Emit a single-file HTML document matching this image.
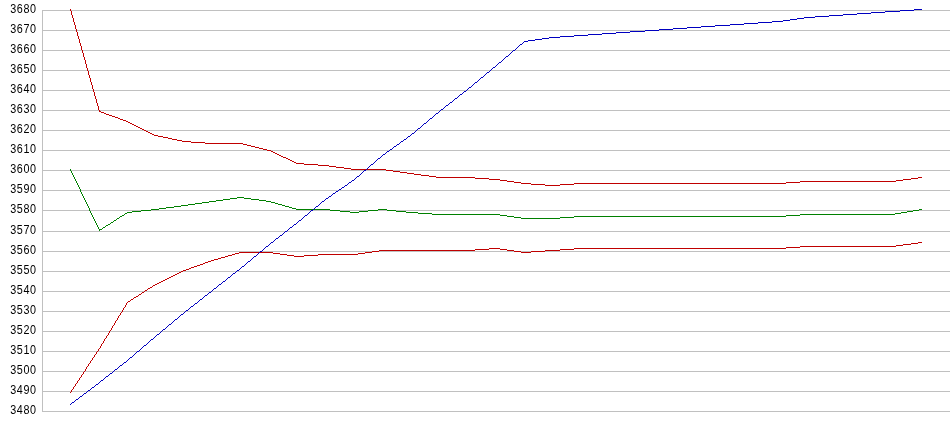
<!DOCTYPE html>
<html><head><meta charset="utf-8"><title>Chart</title>
<style>
html,body{margin:0;padding:0;background:#fff;}
body{position:relative;width:950px;height:435px;overflow:hidden;font-family:"Liberation Sans",sans-serif;}
svg{display:block;}
text{font-family:"Liberation Sans",sans-serif;font-size:10.8px;fill:#000;}
</style></head><body>
<svg width="950" height="435" viewBox="0 0 950 435">
<rect x="0" y="0" width="950" height="435" fill="#ffffff"/>
<g shape-rendering="crispEdges" fill="#c0c0c0" stroke="none">
<rect x="42" y="10" width="908" height="1"/>
<rect x="42" y="30" width="908" height="1"/>
<rect x="42" y="50" width="908" height="1"/>
<rect x="42" y="70" width="908" height="1"/>
<rect x="42" y="90" width="908" height="1"/>
<rect x="42" y="110" width="908" height="1"/>
<rect x="42" y="130" width="908" height="1"/>
<rect x="42" y="150" width="908" height="1"/>
<rect x="42" y="170" width="908" height="1"/>
<rect x="42" y="190" width="908" height="1"/>
<rect x="42" y="210" width="908" height="1"/>
<rect x="42" y="231" width="908" height="1"/>
<rect x="42" y="251" width="908" height="1"/>
<rect x="42" y="271" width="908" height="1"/>
<rect x="42" y="291" width="908" height="1"/>
<rect x="42" y="311" width="908" height="1"/>
<rect x="42" y="331" width="908" height="1"/>
<rect x="42" y="351" width="908" height="1"/>
<rect x="42" y="371" width="908" height="1"/>
<rect x="42" y="391" width="908" height="1"/>
<rect x="42" y="411" width="908" height="1"/>
<rect x="42" y="10" width="1" height="402"/>
</g>
<g shape-rendering="crispEdges" stroke="none">
<path fill="#008000" d="M70 169h1v2h-1zM71 171h1v2h-1zM72 173h1v2h-1zM73 175h1v2h-1zM74 177h1v2h-1zM75 179h1v2h-1zM76 181h1v2h-1zM77 183h1v2h-1zM78 185h1v2h-1zM79 187h1v2h-1zM80 189h1v3h-1zM81 192h1v2h-1zM82 194h1v2h-1zM83 196h1v2h-1zM84 198h1v2h-1zM85 200h1v2h-1zM86 202h1v2h-1zM87 204h1v2h-1zM88 206h1v2h-1zM89 208h1v3h-1zM90 211h1v2h-1zM91 213h1v2h-1zM92 215h1v2h-1zM93 217h1v2h-1zM94 219h1v2h-1zM95 221h1v2h-1zM96 223h1v2h-1zM97 225h1v2h-1zM98 227h1v2h-1zM99 230h1v1h-1zM99 229h3v1h-3zM102 228h1v1h-1zM103 227h2v1h-2zM105 226h1v1h-1zM106 225h2v1h-2zM108 224h2v1h-2zM110 223h1v1h-1zM111 222h2v1h-2zM113 221h1v1h-1zM114 220h2v1h-2zM116 219h1v1h-1zM117 218h2v1h-2zM119 217h1v1h-1zM120 216h2v1h-2zM122 215h2v1h-2zM124 214h1v1h-1zM125 213h2v1h-2zM127 212h5v1h-5zM132 211h9v1h-9zM141 210h10v1h-10zM151 209h8v1h-8zM159 208h7v1h-7zM166 207h8v1h-8zM174 206h7v1h-7zM181 205h7v1h-7zM188 204h7v1h-7zM195 203h7v1h-7zM202 202h7v1h-7zM209 201h7v1h-7zM216 200h7v1h-7zM223 199h7v1h-7zM230 198h7v1h-7zM237 197h7v1h-7zM244 198h7v1h-7zM251 199h8v1h-8zM259 200h7v1h-7zM266 201h5v1h-5zM271 202h4v1h-4zM275 203h3v1h-3zM278 204h4v1h-4zM282 205h3v1h-3zM285 206h4v1h-4zM289 207h3v1h-3zM292 208h4v1h-4zM296 209h34v1h-34zM330 210h10v1h-10zM340 211h10v1h-10zM350 212h9v1h-9zM359 211h9v1h-9zM368 210h10v1h-10zM378 209h9v1h-9zM387 210h9v1h-9zM396 211h10v1h-10zM406 212h12v1h-12zM418 213h14v1h-14zM432 214h68v1h-68zM500 215h7v1h-7zM507 216h7v1h-7zM514 217h7v1h-7zM521 218h39v1h-39zM560 217h14v1h-14zM574 216h212v1h-212zM786 215h14v1h-14zM800 214h95v1h-95zM895 213h6v1h-6zM901 212h6v1h-6zM907 211h6v1h-6zM913 210h6v1h-6zM919 209h3v1h-3z"/>
<path fill="#c00000" d="M70 9h1v2h-1zM71 11h1v4h-1zM72 15h1v3h-1zM73 18h1v4h-1zM74 22h1v3h-1zM75 25h1v4h-1zM76 29h1v3h-1zM77 32h1v4h-1zM78 36h1v3h-1zM79 39h1v4h-1zM80 43h1v3h-1zM81 46h1v4h-1zM82 50h1v3h-1zM83 53h1v4h-1zM84 57h1v3h-1zM85 60h1v4h-1zM86 64h1v4h-1zM87 68h1v3h-1zM88 71h1v4h-1zM89 75h1v3h-1zM90 78h1v4h-1zM91 82h1v3h-1zM92 85h1v4h-1zM93 89h1v3h-1zM94 92h1v4h-1zM95 96h1v3h-1zM96 99h1v4h-1zM97 103h1v3h-1zM98 106h1v4h-1zM99 110h1v1h-1zM99 111h2v1h-2zM101 112h3v1h-3zM104 113h2v1h-2zM106 114h3v1h-3zM109 115h3v1h-3zM112 116h3v1h-3zM115 117h3v1h-3zM118 118h2v1h-2zM120 119h3v1h-3zM123 120h3v1h-3zM126 121h2v1h-2zM128 122h2v1h-2zM130 123h2v1h-2zM132 124h2v1h-2zM134 125h2v1h-2zM136 126h2v1h-2zM138 127h2v1h-2zM140 128h2v1h-2zM142 129h2v1h-2zM144 130h2v1h-2zM146 131h2v1h-2zM148 132h2v1h-2zM150 133h2v1h-2zM152 134h2v1h-2zM154 135h4v1h-4zM158 136h5v1h-5zM163 137h5v1h-5zM168 138h4v1h-4zM172 139h5v1h-5zM177 140h5v1h-5zM182 141h9v1h-9zM191 142h14v1h-14zM205 143h38v1h-38zM243 144h4v1h-4zM247 145h4v1h-4zM251 146h4v1h-4zM255 147h4v1h-4zM259 148h4v1h-4zM263 149h4v1h-4zM267 150h4v1h-4zM271 151h2v1h-2zM273 152h2v1h-2zM275 153h2v1h-2zM277 154h2v1h-2zM279 155h2v1h-2zM281 156h2v1h-2zM283 157h3v1h-3zM286 158h2v1h-2zM288 159h2v1h-2zM290 160h2v1h-2zM292 161h2v1h-2zM294 162h2v1h-2zM296 163h8v1h-8zM304 164h14v1h-14zM318 165h11v1h-11zM329 166h7v1h-7zM336 167h8v1h-8zM344 168h7v1h-7zM351 169h35v1h-35zM386 170h7v1h-7zM393 171h7v1h-7zM400 172h7v1h-7zM407 173h7v1h-7zM414 174h7v1h-7zM421 175h8v1h-8zM429 176h7v1h-7zM436 177h39v1h-39zM475 178h14v1h-14zM489 179h11v1h-11zM500 180h7v1h-7zM507 181h7v1h-7zM514 182h7v1h-7zM521 183h10v1h-10zM531 184h14v1h-14zM545 185h15v1h-15zM560 184h14v1h-14zM574 183h212v1h-212zM786 182h14v1h-14zM800 181h96v1h-96zM896 180h7v1h-7zM903 179h8v1h-8zM911 178h7v1h-7zM918 177h4v1h-4z"/>
<path fill="#c00000" d="M70 392h1v1h-1zM71 390h1v2h-1zM72 389h1v1h-1zM73 387h1v2h-1zM74 386h1v1h-1zM75 384h1v2h-1zM76 383h1v1h-1zM77 381h1v2h-1zM78 380h1v1h-1zM79 378h1v2h-1zM80 377h1v1h-1zM81 375h1v2h-1zM82 374h1v1h-1zM83 372h1v2h-1zM84 371h1v1h-1zM85 369h1v2h-1zM86 367h1v2h-1zM87 366h1v1h-1zM88 364h1v2h-1zM89 363h1v1h-1zM90 361h1v2h-1zM91 360h1v1h-1zM92 358h1v2h-1zM93 357h1v1h-1zM94 355h1v2h-1zM95 354h1v1h-1zM96 352h1v2h-1zM97 351h1v1h-1zM98 349h1v2h-1zM99 348h1v1h-1zM100 346h1v2h-1zM101 344h1v2h-1zM102 343h1v1h-1zM103 341h1v2h-1zM104 339h1v2h-1zM105 338h1v1h-1zM106 336h1v2h-1zM107 335h1v1h-1zM108 333h1v2h-1zM109 331h1v2h-1zM110 330h1v1h-1zM111 328h1v2h-1zM112 326h1v2h-1zM113 325h1v1h-1zM114 323h1v2h-1zM115 321h1v2h-1zM116 320h1v1h-1zM117 318h1v2h-1zM118 316h1v2h-1zM119 315h1v1h-1zM120 313h1v2h-1zM121 312h1v1h-1zM122 310h1v2h-1zM123 308h1v2h-1zM124 307h1v1h-1zM125 305h1v2h-1zM126 303h1v2h-1zM127 302h1v1h-1zM128 301h2v1h-2zM130 300h1v1h-1zM131 299h2v1h-2zM133 298h1v1h-1zM134 297h2v1h-2zM136 296h2v1h-2zM138 295h1v1h-1zM139 294h2v1h-2zM141 293h1v1h-1zM142 292h2v1h-2zM144 291h1v1h-1zM145 290h2v1h-2zM147 289h1v1h-1zM148 288h2v1h-2zM150 287h2v1h-2zM152 286h1v1h-1zM153 285h2v1h-2zM155 284h2v1h-2zM157 283h2v1h-2zM159 282h2v1h-2zM161 281h2v1h-2zM163 280h2v1h-2zM165 279h2v1h-2zM167 278h2v1h-2zM169 277h2v1h-2zM171 276h2v1h-2zM173 275h2v1h-2zM175 274h2v1h-2zM177 273h2v1h-2zM179 272h2v1h-2zM181 271h2v1h-2zM183 270h3v1h-3zM186 269h3v1h-3zM189 268h2v1h-2zM191 267h3v1h-3zM194 266h3v1h-3zM197 265h3v1h-3zM200 264h3v1h-3zM203 263h2v1h-2zM205 262h3v1h-3zM208 261h3v1h-3zM211 260h3v1h-3zM214 259h4v1h-4zM218 258h3v1h-3zM221 257h4v1h-4zM225 256h3v1h-3zM228 255h4v1h-4zM232 254h3v1h-3zM235 253h4v1h-4zM239 252h34v1h-34zM273 253h7v1h-7zM280 254h7v1h-7zM287 255h7v1h-7zM294 256h10v1h-10zM304 255h14v1h-14zM318 254h40v1h-40zM358 253h7v1h-7zM365 252h7v1h-7zM372 251h7v1h-7zM379 250h96v1h-96zM475 249h14v1h-14zM489 248h11v1h-11zM500 249h7v1h-7zM507 250h7v1h-7zM514 251h7v1h-7zM521 252h10v1h-10zM531 251h14v1h-14zM545 250h15v1h-15zM560 249h14v1h-14zM574 248h212v1h-212zM786 247h14v1h-14zM800 246h96v1h-96zM896 245h7v1h-7zM903 244h8v1h-8zM911 243h7v1h-7zM918 242h4v1h-4z"/>
<path fill="#0000c0" d="M70 404h1v1h-1zM71 403h1v1h-1zM72 402h2v1h-2zM74 401h1v1h-1zM75 400h1v1h-1zM76 399h2v1h-2zM78 398h1v1h-1zM79 397h1v1h-1zM80 396h2v1h-2zM82 395h1v1h-1zM83 394h1v1h-1zM84 393h2v1h-2zM86 392h1v1h-1zM87 391h1v1h-1zM88 390h2v1h-2zM90 389h1v1h-1zM91 388h1v1h-1zM92 387h2v1h-2zM94 386h1v1h-1zM95 385h1v1h-1zM96 384h2v1h-2zM98 383h1v1h-1zM99 382h1v1h-1zM100 381h1v1h-1zM101 380h2v1h-2zM103 379h1v1h-1zM104 378h1v1h-1zM105 377h1v1h-1zM106 376h2v1h-2zM108 375h1v1h-1zM109 374h1v1h-1zM110 373h2v1h-2zM112 372h1v1h-1zM113 371h1v1h-1zM114 370h1v1h-1zM115 369h2v1h-2zM117 368h1v1h-1zM118 367h1v1h-1zM119 366h1v1h-1zM120 365h2v1h-2zM122 364h1v1h-1zM123 363h1v1h-1zM124 362h2v1h-2zM126 361h1v1h-1zM127 360h1v1h-1zM128 359h1v1h-1zM129 358h1v1h-1zM130 357h2v1h-2zM132 356h1v1h-1zM133 355h1v1h-1zM134 354h1v1h-1zM135 353h1v1h-1zM136 352h1v1h-1zM137 351h2v1h-2zM139 350h1v1h-1zM140 349h1v1h-1zM141 348h1v1h-1zM142 347h1v1h-1zM143 346h1v1h-1zM144 345h2v1h-2zM146 344h1v1h-1zM147 343h1v1h-1zM148 342h1v1h-1zM149 341h1v1h-1zM150 340h1v1h-1zM151 339h2v1h-2zM153 338h1v1h-1zM154 337h1v1h-1zM155 336h1v1h-1zM156 335h1v1h-1zM157 334h2v1h-2zM159 333h1v1h-1zM160 332h1v1h-1zM161 331h1v1h-1zM162 330h1v1h-1zM163 329h2v1h-2zM165 328h1v1h-1zM166 327h1v1h-1zM167 326h1v1h-1zM168 325h1v1h-1zM169 324h2v1h-2zM171 323h1v1h-1zM172 322h1v1h-1zM173 321h1v1h-1zM174 320h1v1h-1zM175 319h2v1h-2zM177 318h1v1h-1zM178 317h1v1h-1zM179 316h1v1h-1zM180 315h1v1h-1zM181 314h2v1h-2zM183 313h1v1h-1zM184 312h1v1h-1zM185 311h1v1h-1zM186 310h2v1h-2zM188 309h1v1h-1zM189 308h1v1h-1zM190 307h1v1h-1zM191 306h2v1h-2zM193 305h1v1h-1zM194 304h1v1h-1zM195 303h2v1h-2zM197 302h1v1h-1zM198 301h1v1h-1zM199 300h1v1h-1zM200 299h2v1h-2zM202 298h1v1h-1zM203 297h1v1h-1zM204 296h1v1h-1zM205 295h2v1h-2zM207 294h1v1h-1zM208 293h1v1h-1zM209 292h2v1h-2zM211 291h1v1h-1zM212 290h1v1h-1zM213 289h1v1h-1zM214 288h2v1h-2zM216 287h1v1h-1zM217 286h1v1h-1zM218 285h1v1h-1zM219 284h2v1h-2zM221 283h1v1h-1zM222 282h1v1h-1zM223 281h2v1h-2zM225 280h1v1h-1zM226 279h1v1h-1zM227 278h1v1h-1zM228 277h2v1h-2zM230 276h1v1h-1zM231 275h1v1h-1zM232 274h1v1h-1zM233 273h2v1h-2zM235 272h1v1h-1zM236 271h1v1h-1zM237 270h2v1h-2zM239 269h1v1h-1zM240 268h1v1h-1zM241 267h1v1h-1zM242 266h2v1h-2zM244 265h1v1h-1zM245 264h1v1h-1zM246 263h1v1h-1zM247 262h1v1h-1zM248 261h2v1h-2zM250 260h1v1h-1zM251 259h1v1h-1zM252 258h1v1h-1zM253 257h1v1h-1zM254 256h2v1h-2zM256 255h1v1h-1zM257 254h1v1h-1zM258 253h1v1h-1zM259 252h1v1h-1zM260 251h2v1h-2zM262 250h1v1h-1zM263 249h1v1h-1zM264 248h1v1h-1zM265 247h1v1h-1zM266 246h2v1h-2zM268 245h1v1h-1zM269 244h1v1h-1zM270 243h1v1h-1zM271 242h2v1h-2zM273 241h1v1h-1zM274 240h1v1h-1zM275 239h1v1h-1zM276 238h2v1h-2zM278 237h1v1h-1zM279 236h1v1h-1zM280 235h2v1h-2zM282 234h1v1h-1zM283 233h1v1h-1zM284 232h1v1h-1zM285 231h2v1h-2zM287 230h1v1h-1zM288 229h1v1h-1zM289 228h1v1h-1zM290 227h2v1h-2zM292 226h1v1h-1zM293 225h1v1h-1zM294 224h2v1h-2zM296 223h1v1h-1zM297 222h1v1h-1zM298 221h1v1h-1zM299 220h2v1h-2zM301 219h1v1h-1zM302 218h1v1h-1zM303 217h1v1h-1zM304 216h1v1h-1zM305 215h2v1h-2zM307 214h1v1h-1zM308 213h1v1h-1zM309 212h1v1h-1zM310 211h1v1h-1zM311 210h2v1h-2zM313 209h1v1h-1zM314 208h1v1h-1zM315 207h1v1h-1zM316 206h2v1h-2zM318 205h1v1h-1zM319 204h1v1h-1zM320 203h1v1h-1zM321 202h1v1h-1zM322 201h2v1h-2zM324 200h1v1h-1zM325 199h1v1h-1zM326 198h2v1h-2zM328 197h1v1h-1zM329 196h2v1h-2zM331 195h1v1h-1zM332 194h1v1h-1zM333 193h2v1h-2zM335 192h1v1h-1zM336 191h2v1h-2zM338 190h1v1h-1zM339 189h2v1h-2zM341 188h1v1h-1zM342 187h2v1h-2zM344 186h1v1h-1zM345 185h2v1h-2zM347 184h1v1h-1zM348 183h1v1h-1zM349 182h2v1h-2zM351 181h1v1h-1zM352 180h2v1h-2zM354 179h1v1h-1zM355 178h1v1h-1zM356 177h1v1h-1zM357 176h2v1h-2zM359 175h1v1h-1zM360 174h1v1h-1zM361 173h1v1h-1zM362 172h1v1h-1zM363 171h1v1h-1zM364 170h2v1h-2zM366 169h1v1h-1zM367 168h1v1h-1zM368 167h1v1h-1zM369 166h1v1h-1zM370 165h1v1h-1zM371 164h2v1h-2zM373 163h1v1h-1zM374 162h1v1h-1zM375 161h1v1h-1zM376 160h1v1h-1zM377 159h1v1h-1zM378 158h2v1h-2zM380 157h1v1h-1zM381 156h1v1h-1zM382 155h1v1h-1zM383 154h2v1h-2zM385 153h1v1h-1zM386 152h1v1h-1zM387 151h2v1h-2zM389 150h1v1h-1zM390 149h2v1h-2zM392 148h1v1h-1zM393 147h1v1h-1zM394 146h2v1h-2zM396 145h1v1h-1zM397 144h2v1h-2zM399 143h1v1h-1zM400 142h1v1h-1zM401 141h2v1h-2zM403 140h1v1h-1zM404 139h2v1h-2zM406 138h1v1h-1zM407 137h1v1h-1zM408 136h2v1h-2zM410 135h1v1h-1zM411 134h1v1h-1zM412 133h2v1h-2zM414 132h1v1h-1zM415 131h1v1h-1zM416 130h1v1h-1zM417 129h1v1h-1zM418 128h2v1h-2zM420 127h1v1h-1zM421 126h1v1h-1zM422 125h1v1h-1zM423 124h1v1h-1zM424 123h2v1h-2zM426 122h1v1h-1zM427 121h1v1h-1zM428 120h1v1h-1zM429 119h1v1h-1zM430 118h2v1h-2zM432 117h1v1h-1zM433 116h1v1h-1zM434 115h1v1h-1zM435 114h1v1h-1zM436 113h2v1h-2zM438 112h1v1h-1zM439 111h1v1h-1zM440 110h1v1h-1zM441 109h2v1h-2zM443 108h1v1h-1zM444 107h1v1h-1zM445 106h1v1h-1zM446 105h2v1h-2zM448 104h1v1h-1zM449 103h1v1h-1zM450 102h2v1h-2zM452 101h1v1h-1zM453 100h1v1h-1zM454 99h1v1h-1zM455 98h2v1h-2zM457 97h1v1h-1zM458 96h1v1h-1zM459 95h1v1h-1zM460 94h2v1h-2zM462 93h1v1h-1zM463 92h1v1h-1zM464 91h2v1h-2zM466 90h1v1h-1zM467 89h1v1h-1zM468 88h1v1h-1zM469 87h2v1h-2zM471 86h1v1h-1zM472 85h1v1h-1zM473 84h1v1h-1zM474 83h1v1h-1zM475 82h2v1h-2zM477 81h1v1h-1zM478 80h1v1h-1zM479 79h1v1h-1zM480 78h1v1h-1zM481 77h2v1h-2zM483 76h1v1h-1zM484 75h1v1h-1zM485 74h1v1h-1zM486 73h1v1h-1zM487 72h2v1h-2zM489 71h1v1h-1zM490 70h1v1h-1zM491 69h1v1h-1zM492 68h1v1h-1zM493 67h2v1h-2zM495 66h1v1h-1zM496 65h1v1h-1zM497 64h1v1h-1zM498 63h1v1h-1zM499 62h2v1h-2zM501 61h1v1h-1zM502 60h1v1h-1zM503 59h1v1h-1zM504 58h1v1h-1zM505 57h1v1h-1zM506 56h2v1h-2zM508 55h1v1h-1zM509 54h1v1h-1zM510 53h1v1h-1zM511 52h1v1h-1zM512 51h1v1h-1zM513 50h2v1h-2zM515 49h1v1h-1zM516 48h1v1h-1zM517 47h1v1h-1zM518 46h1v1h-1zM519 45h1v1h-1zM520 44h2v1h-2zM522 43h1v1h-1zM523 42h1v1h-1zM524 41h4v1h-4zM528 40h7v1h-7zM535 39h7v1h-7zM542 38h7v1h-7zM549 37h11v1h-11zM560 36h14v1h-14zM574 35h14v1h-14zM588 34h14v1h-14zM602 33h14v1h-14zM616 32h14v1h-14zM630 31h15v1h-15zM645 30h14v1h-14zM659 29h14v1h-14zM673 28h14v1h-14zM687 27h14v1h-14zM701 26h14v1h-14zM715 25h15v1h-15zM730 24h14v1h-14zM744 23h14v1h-14zM758 22h14v1h-14zM772 21h11v1h-11zM783 20h7v1h-7zM790 19h7v1h-7zM797 18h7v1h-7zM804 17h11v1h-11zM815 16h14v1h-14zM829 15h14v1h-14zM843 14h14v1h-14zM857 13h14v1h-14zM871 12h14v1h-14zM885 11h15v1h-15zM900 10h14v1h-14zM914 9h8v1h-8z"/>
</g>
</svg>
<svg id="labels" width="42" height="435" viewBox="0 0 42 435" style="position:absolute;left:0;top:0;will-change:transform;">
<g>
<text transform="translate(10.3,13) scale(1,1.164)" x="0" y="0" letter-spacing="0.543">3680</text>
<text transform="translate(10.3,33) scale(1,1.164)" x="0" y="0" letter-spacing="0.543">3670</text>
<text transform="translate(10.3,53) scale(1,1.164)" x="0" y="0" letter-spacing="0.543">3660</text>
<text transform="translate(10.3,73) scale(1,1.164)" x="0" y="0" letter-spacing="0.543">3650</text>
<text transform="translate(10.3,93) scale(1,1.164)" x="0" y="0" letter-spacing="0.543">3640</text>
<text transform="translate(10.3,113) scale(1,1.164)" x="0" y="0" letter-spacing="0.543">3630</text>
<text transform="translate(10.3,133) scale(1,1.164)" x="0" y="0" letter-spacing="0.543">3620</text>
<text transform="translate(10.3,153) scale(1,1.164)" x="0" y="0" letter-spacing="0.543">3610</text>
<text transform="translate(10.3,173) scale(1,1.164)" x="0" y="0" letter-spacing="0.543">3600</text>
<text transform="translate(10.3,193) scale(1,1.164)" x="0" y="0" letter-spacing="0.543">3590</text>
<text transform="translate(10.3,213) scale(1,1.164)" x="0" y="0" letter-spacing="0.543">3580</text>
<text transform="translate(10.3,234) scale(1,1.164)" x="0" y="0" letter-spacing="0.543">3570</text>
<text transform="translate(10.3,254) scale(1,1.164)" x="0" y="0" letter-spacing="0.543">3560</text>
<text transform="translate(10.3,274) scale(1,1.164)" x="0" y="0" letter-spacing="0.543">3550</text>
<text transform="translate(10.3,294) scale(1,1.164)" x="0" y="0" letter-spacing="0.543">3540</text>
<text transform="translate(10.3,314) scale(1,1.164)" x="0" y="0" letter-spacing="0.543">3530</text>
<text transform="translate(10.3,334) scale(1,1.164)" x="0" y="0" letter-spacing="0.543">3520</text>
<text transform="translate(10.3,354) scale(1,1.164)" x="0" y="0" letter-spacing="0.543">3510</text>
<text transform="translate(10.3,374) scale(1,1.164)" x="0" y="0" letter-spacing="0.543">3500</text>
<text transform="translate(10.3,394) scale(1,1.164)" x="0" y="0" letter-spacing="0.543">3490</text>
<text transform="translate(10.3,414) scale(1,1.164)" x="0" y="0" letter-spacing="0.543">3480</text>
</g>
</svg>
</body></html>
